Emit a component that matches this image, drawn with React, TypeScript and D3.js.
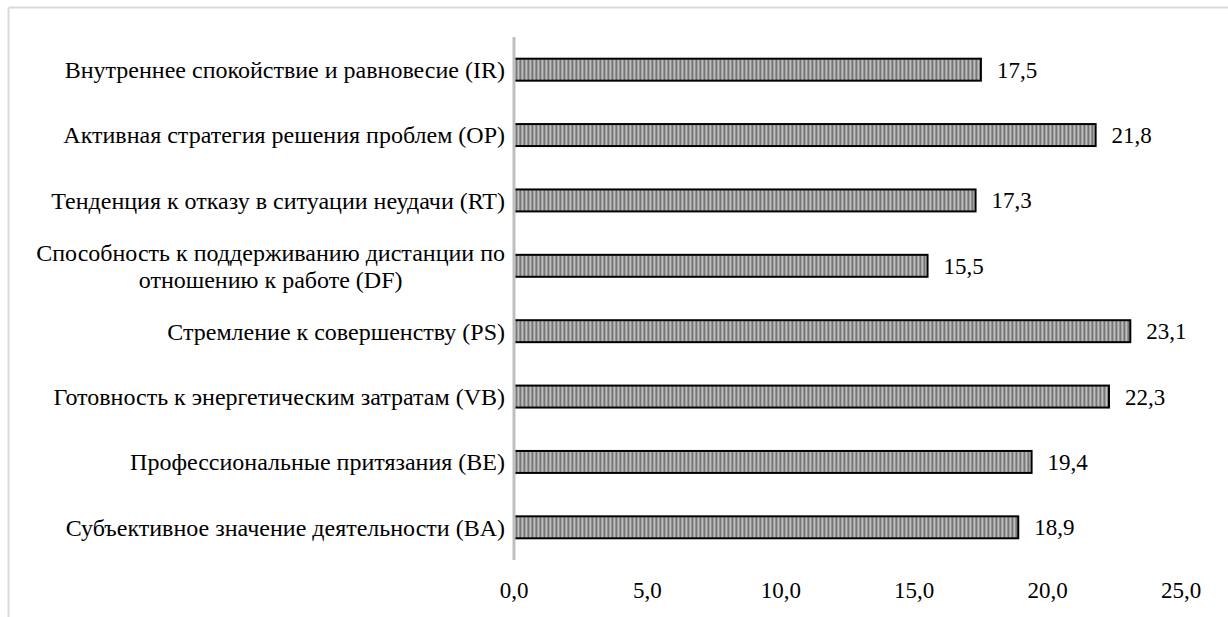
import React, { useLayoutEffect, useRef, useState } from "react";
import * as d3 from "d3";

const categories = [
  "Внутреннее спокойствие и равновесие (IR)",
  "Активная стратегия решения проблем (OP)",
  "Тенденция к отказу в ситуации неудачи (RT)",
  "Способность к поддерживанию дистанции по|отношению к работе (DF)",
  "Стремление к совершенству (PS)",
  "Готовность к энергетическим затратам (VB)",
  "Профессиональные притязания (BE)",
  "Субъективное значение деятельности (BA)",
];
const values = [17.5, 21.8, 17.3, 15.5, 23.1, 22.3, 19.4, 18.9];
const ticks = [0, 5, 10, 15, 20, 25];

const W = 1228;
const H = 617;
const FONT = "'Liberation Serif', 'Times New Roman', serif";
const FS = 24;
const NUM_FS = 23;
const fmt = (v: number) => d3.format(".1f")(v).replace(".", ",");

function CategoryLabel({ text, y, right }: { text: string; y: number; right: number }) {
  const lines = text.split("|");
  const ref = useRef<SVGTextElement>(null);
  const [w, setW] = useState(0);
  useLayoutEffect(() => {
    if (ref.current) setW(ref.current.getComputedTextLength());
  }, [text]);
  if (lines.length === 1) {
    return (
      <text x={right} y={y} dy="0.35em" textAnchor="end">
        {text}
      </text>
    );
  }
  const cx = right - w / 2;
  const lh = 27;
  const y0 = y - ((lines.length - 1) * lh) / 2;
  return (
    <g>
      <text ref={ref} x={right} y={y0} dy="0.35em" textAnchor="end">
        {lines[0]}
      </text>
      {lines.slice(1).map((l, i) => (
        <text key={i} x={w ? cx : right} y={y0 + (i + 1) * lh} dy="0.35em" textAnchor={w ? "middle" : "end"}>
          {l}
        </text>
      ))}
    </g>
  );
}

export default function App() {
  const x = d3.scaleLinear().domain([0, 25]).range([514, 1181]);
  const y = d3
    .scaleBand<string>()
    .domain(categories)
    .range([37, 560])
    .paddingInner(0.664)
    .paddingOuter(0.332);
  const bw = y.bandwidth();
  const stripe = ["#767676", "#a2a2a2", "#bebebe", "#929292"];

  return (
    <svg
      width={W}
      height={H}
      style={{ position: "absolute", left: 0, top: 0, background: "#fff" }}
      fontFamily={FONT}
      fontSize={FS}
      fill="#000"
    >
      <defs>
        <pattern id="vstripes" patternUnits="userSpaceOnUse" width={4} height={4}>
          {stripe.map((c, i) => (
            <rect key={i} x={i} y={0} width={1} height={4} fill={c} />
          ))}
        </pattern>
      </defs>
      <rect x={0} y={0} width={W} height={H} fill="#fff" />
      {/* chart area frame */}
      <line x1={8.5} y1={7.5} x2={W} y2={7.5} stroke="#d9d9d9" strokeWidth={2} />
      <line x1={8.5} y1={7.5} x2={8.5} y2={H} stroke="#d9d9d9" strokeWidth={2} />

      {categories.map((c, i) => {
        const top = y(c)!;
        const v = values[i];
        return (
          <g key={c}>
            <rect
              x={x(0)}
              y={top}
              width={x(v) - x(0)}
              height={bw}
              fill="url(#vstripes)"
              stroke="#000"
              strokeWidth={2}
            />
            <text x={x(v) + 16} y={top + bw / 2} dy="0.35em" fontSize={NUM_FS}>
              {fmt(v)}
            </text>
            <CategoryLabel text={c} y={top + bw / 2} right={505} />
          </g>
        );
      })}

      <line x1={x(0)} y1={37} x2={x(0)} y2={560} stroke="#bfbfbf" strokeWidth={3} />

      {ticks.map((t) => (
        <text key={t} x={x(t)} y={590} dy="0.35em" textAnchor="middle" fontSize={NUM_FS}>
          {fmt(t)}
        </text>
      ))}
    </svg>
  );
}
